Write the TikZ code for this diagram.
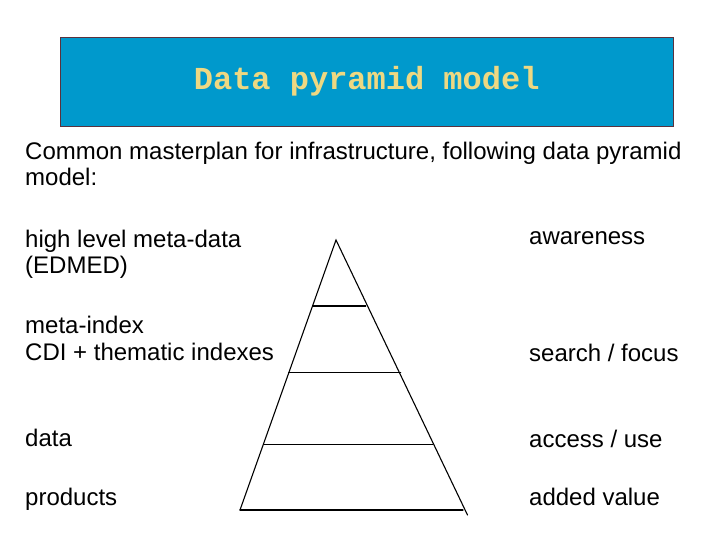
\documentclass[tikz,border=0pt]{standalone}
\usepackage{fontspec}
\setmainfont{Liberation Sans}
\newfontfamily\titlefont{Liberation Mono}
\definecolor{titleblue}{RGB}{0,153,204}
\definecolor{titleyellow}{RGB}{238,216,130}
\definecolor{titleframe}{RGB}{90,50,62}
\begin{document}
\begin{tikzpicture}[x=1bp,y=-1bp,font=\fontsize{24bp}{26.5bp}\selectfont,
  txt/.style={anchor=base west, inner sep=0pt, align=left},
  layer/.style={line width=1.1bp, line cap=round}]
\useasboundingbox[fill=white] (0,0) rectangle (720,540);
\node[draw=titleframe, fill=titleblue, text=titleyellow, anchor=north west, inner sep=0pt,
  minimum width=613bp, minimum height=89bp,
  font=\titlefont\bfseries\fontsize{32bp}{32bp}\selectfont] (title) at (60,37) {Data pyramid model};
\node[txt] (intro) at (25,186) {Common masterplan for infrastructure, following data pyramid\\model:};
% left column
\node[txt] (meta) at (25,274) {high level meta-data\\(EDMED)};
\node[txt] (index) at (25,360) {meta-index\\CDI + thematic indexes};
\node[txt] (data) at (25,446) {data};
\node[txt] (prod) at (25,505) {products};
% right column
\node[txt] (aware) at (529,245) {awareness};
\node[txt] (search) at (529,361) {search / focus};
\node[txt] (access) at (529,447) {access / use};
\node[txt] (added) at (529,505) {added value};
% pyramid
\coordinate (apex) at (336,240);
\coordinate (baseL) at (240,510);
\coordinate (baseR) at (463,510);
\coordinate (tail) at (467.5,515);
\draw[layer] (baseL) -- (apex) -- (tail);
\draw[layer] (baseL) -- (baseR);
\foreach \y/\xa/\xb in {306/312.7/365.7, 372.3/288.7/400.7, 444.3/264/432.7}
  \draw[layer] (\xa,\y) -- (\xb,\y);
\end{tikzpicture}
\end{document}
